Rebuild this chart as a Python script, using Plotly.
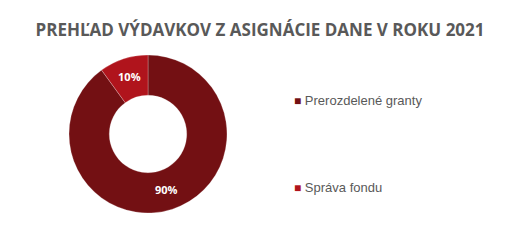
import plotly.graph_objects as go

categories = ["Prerozdelené granty", "Správa fondu"]
values = [90, 10]
colors = ["#731013", "#B0141C"]
title = "PREHĽAD VÝDAVKOV Z ASIGNÁCIE DANE V ROKU 2021"

W, H = 520, 246

fig = go.Figure()
fig.add_trace(go.Pie(
    labels=categories,
    values=values,
    hole=0.49,
    sort=False,
    direction="clockwise",
    rotation=0,
    marker=dict(colors=colors, line=dict(color="rgba(255,255,255,0.35)", width=0.7)),
    textinfo="percent",
    texttemplate="<b>%{percent:.0%}</b>",
    textposition="inside",
    insidetextorientation="horizontal",
    insidetextfont=dict(color="white", size=11, family="Open Sans"),
    domain=dict(x=[69 / W, 227 / W], y=[33 / H, 191 / H]),
    showlegend=False,
    hoverinfo="label+percent",
))

legend_y = [100, 187]
for cat, col, py in zip(categories, colors, legend_y):
    fig.add_annotation(
        x=292 / W, y=1 - py / H, xref="paper", yref="paper",
        xanchor="left", yanchor="middle", showarrow=False,
        text=f"<span style='color:{col};font-size:12px'>■</span> {cat}",
        font=dict(size=13, color="#595959", family="Liberation Sans"),
    )

fig.update_layout(
    width=W, height=H,
    margin=dict(l=0, r=0, t=0, b=0),
    paper_bgcolor="white", plot_bgcolor="white",
    title=dict(
        text=f"<b>{title}</b>",
        x=0.5, xanchor="center", y=1 - 30 / H, yanchor="middle",
        font=dict(size=17, color="#595959", family="Open Sans"),
    ),
)

fig.write_html("out.html")
